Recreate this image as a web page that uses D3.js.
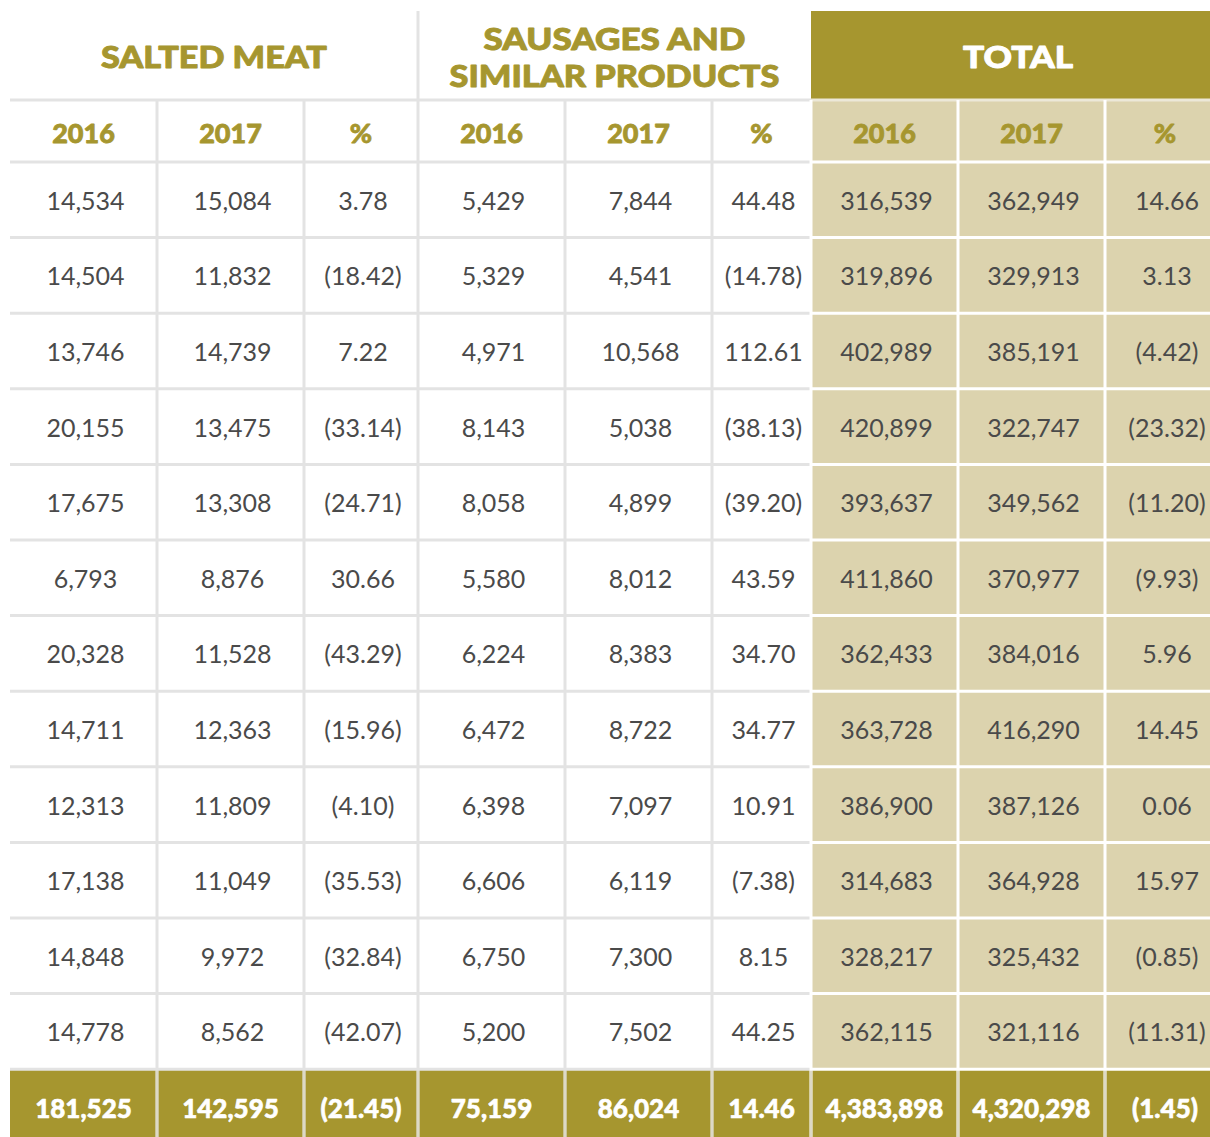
<!DOCTYPE html>
<html>
<head>
<meta charset="utf-8">
<script src="https://cdn.jsdelivr.net/npm/d3@7"></script>
<style>
  html, body { margin: 0; padding: 0; background: #fff; overflow: hidden; }
  svg { display: block; }
</style>
</head>
<body>
<div id="chart"></div>
<script>
// column groups and sub headers
const groups = [['SALTED MEAT'], ['SAUSAGES AND', 'SIMILAR PRODUCTS'], ['TOTAL']];
const subHeaders = ['2016', '2017', '%'];

// monthly rows (12)
const salted2016 = [14534, 14504, 13746, 20155, 17675, 6793, 20328, 14711, 12313, 17138, 14848, 14778];
const salted2017 = [15084, 11832, 14739, 13475, 13308, 8876, 11528, 12363, 11809, 11049, 9972, 8562];
const saltedPct = [3.78, -18.42, 7.22, -33.14, -24.71, 30.66, -43.29, -15.96, -4.10, -35.53, -32.84, -42.07];
const sausage2016 = [5429, 5329, 4971, 8143, 8058, 5580, 6224, 6472, 6398, 6606, 6750, 5200];
const sausage2017 = [7844, 4541, 10568, 5038, 4899, 8012, 8383, 8722, 7097, 6119, 7300, 7502];
const sausagePct = [44.48, -14.78, 112.61, -38.13, -39.20, 43.59, 34.70, 34.77, 10.91, -7.38, 8.15, 44.25];
const total2016 = [316539, 319896, 402989, 420899, 393637, 411860, 362433, 363728, 386900, 314683, 328217, 362115];
const total2017 = [362949, 329913, 385191, 322747, 349562, 370977, 384016, 416290, 387126, 364928, 325432, 321116];
const totalPct = [14.66, 3.13, -4.42, -23.32, -11.20, -9.93, 5.96, 14.45, 0.06, 15.97, -0.85, -11.31];

// bottom total row
const grandTotals = [181525, 142595, -21.45, 75159, 86024, 14.46, 4383898, 4320298, -1.45];

const columns = [salted2016, salted2017, saltedPct, sausage2016, sausage2017, sausagePct, total2016, total2017, totalPct];
const isPct = [false, false, true, false, false, true, false, false, true];

// layout
const width = 1210, height = 1137;
const colWidths = [147, 147, 114, 147, 147, 99, 147, 147, 120];
const headWidths = [[226], [262, 330], [110]]; // rendered width of the group titles
const left = 10, headTop = 11, subTop = 100, bodyTop = 162, rowH = 75.6;
const gold = '#a6962f', tan = '#dcd3ae', lineGray = '#e3e3e3', textGray = '#4a4a4a';
const heavy = "'Lato Black', 'Lato Heavy', Lato, sans-serif";

const edges = [left];
colWidths.forEach(w => edges.push(edges[edges.length - 1] + w));
const x = i => edges[i];
const cw = i => colWidths[i];

const nRows = salted2016.length + 1;
const y = d3.scaleBand().domain(d3.range(nRows)).range([bodyTop, bodyTop + nRows * rowH]);

const fmtInt = d3.format(',');
const fmtPct = v => (v < 0 ? '(' + d3.format('.2f')(-v) + ')' : d3.format('.2f')(v));
const fmt = (v, c) => (isPct[c] ? fmtPct(v) : fmtInt(v));

const svg = d3.select('#chart').append('svg').attr('width', width).attr('height', height);

// backgrounds
const totalX = x(6), rightX = x(9);
svg.append('rect').attr('x', totalX).attr('y', headTop).attr('width', rightX - totalX).attr('height', subTop - headTop).attr('fill', gold);
svg.append('rect').attr('x', totalX).attr('y', subTop).attr('width', rightX - totalX).attr('height', y(nRows - 1) - subTop).attr('fill', tan);
svg.append('rect').attr('x', left).attr('y', y(nRows - 1)).attr('width', rightX - left).attr('height', y.bandwidth()).attr('fill', gold);

// horizontal lines
const hLines = [subTop, bodyTop].concat(d3.range(1, nRows).map(i => y(i)));
svg.selectAll('line.hg').data(hLines).enter().append('line')
  .attr('x1', left).attr('x2', totalX).attr('y1', d => d).attr('y2', d => d)
  .attr('stroke', lineGray).attr('stroke-width', 3);
svg.selectAll('line.hw').data(hLines).enter().append('line')
  .attr('x1', totalX).attr('x2', rightX).attr('y1', d => d).attr('y2', d => d)
  .attr('stroke', d => (d === subTop ? '#ece8d8' : '#fff')).attr('stroke-width', 3);

// vertical lines
const vIdx = d3.range(1, 9);
svg.selectAll('line.v').data(vIdx).enter().append('line')
  .attr('x1', d => x(d)).attr('x2', d => x(d))
  .attr('y1', d => (d === 3 ? headTop : subTop))
  .attr('y2', height)
  .attr('stroke', d => (d >= 6 ? '#fff' : lineGray))
  .attr('stroke-width', 3);
// separators inside the gold bottom row
svg.selectAll('line.vb').data(vIdx).enter().append('line')
  .attr('x1', d => x(d)).attr('x2', d => x(d))
  .attr('y1', y(nRows - 1) + 1.5).attr('y2', height)
  .attr('stroke', '#ddd9c6').attr('stroke-width', 2.5);

// group headers (one text per line)
groups.forEach((lines, g) => {
  const cx = (x(g * 3) + x(g * 3 + 3)) / 2;
  const cy = (headTop + subTop) / 2 + 0.5;
  const col = g === 2 ? '#fff' : gold;
  lines.forEach((s, k) => {
    svg.append('text')
      .attr('x', cx)
      .attr('y', cy + (k - (lines.length - 1) / 2) * 37)
      .attr('text-anchor', 'middle').attr('dominant-baseline', 'central')
      .attr('font-family', heavy).attr('font-weight', 900)
      .attr('font-size', 31)
      .attr('textLength', headWidths[g][k]).attr('lengthAdjust', 'spacingAndGlyphs')
      .attr('fill', col).attr('stroke', col).attr('stroke-width', 0.9)
      .attr('stroke-linejoin', 'round')
      .text(s);
  });
});

// sub headers
d3.range(9).forEach(c => {
  svg.append('text')
    .attr('x', x(c) + cw(c) / 2).attr('y', (subTop + bodyTop) / 2 + 1)
    .attr('text-anchor', 'middle').attr('dominant-baseline', 'central')
    .attr('font-family', heavy).attr('font-weight', 900)
    .attr('font-size', 27).attr('fill', gold)
    .attr('stroke', gold).attr('stroke-width', 0.8).attr('stroke-linejoin', 'round')
    .text(subHeaders[c % 3]);
});

// body cells
const cells = [];
columns.forEach((col, c) => col.forEach((v, r) => cells.push({ c, r, v })));
svg.selectAll('text.cell').data(cells).enter().append('text')
  .attr('class', 'cell')
  .attr('x', d => x(d.c) + cw(d.c) / 2 + 2)
  .attr('y', d => y(d.r) + y.bandwidth() / 2)
  .attr('text-anchor', 'middle').attr('dominant-baseline', 'central')
  .attr('font-family', 'Lato, sans-serif').attr('font-size', 25)
  .attr('fill', textGray)
  .text(d => fmt(d.v, d.c));

// totals row
svg.selectAll('text.tot').data(grandTotals).enter().append('text')
  .attr('class', 'tot')
  .attr('x', (d, c) => x(c) + cw(c) / 2)
  .attr('y', y(nRows - 1) + 39)
  .attr('text-anchor', 'middle').attr('dominant-baseline', 'central')
  .attr('font-family', heavy).attr('font-weight', 900)
  .attr('font-size', 26).attr('fill', '#fff')
  .attr('stroke', '#fff').attr('stroke-width', 0.6).attr('stroke-linejoin', 'round')
  .text((d, c) => fmt(d, c));
</script>
</body>
</html>
